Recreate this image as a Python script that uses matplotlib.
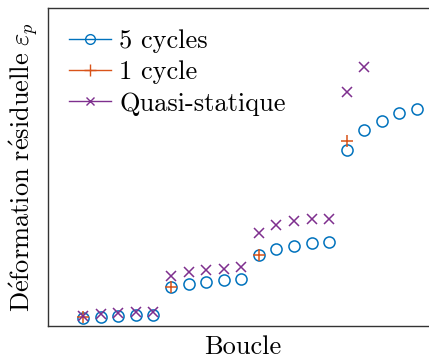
import numpy as np
import matplotlib
matplotlib.use("Agg")
import matplotlib.pyplot as plt
from matplotlib.lines import Line2D

plt.rcParams['font.family'] = ['cmr10', 'DejaVu Serif']
plt.rcParams['mathtext.fontset'] = 'cm'
plt.rcParams['axes.unicode_minus'] = False

# residual strain per loop (arbitrary units)
boucles = np.arange(1, 21)
eps_5cycles = [0.025, 0.028, 0.031, 0.035, 0.036,
               0.122, 0.131, 0.138, 0.144, 0.149,
               0.223, 0.242, 0.253, 0.260, 0.265,
               0.553, 0.616, 0.646, 0.669, 0.681]
boucles_1cycle = [1, 6, 11, 16]
eps_1cycle = [0.027, 0.122, 0.223, 0.582]
boucles_qs = np.arange(1, 18)
eps_qs = [0.031, 0.037, 0.040, 0.043, 0.044,
          0.157, 0.170, 0.176, 0.179, 0.185,
          0.293, 0.319, 0.329, 0.337, 0.337,
          0.737, 0.814]

blue = '#0072BD'
orange = '#D95319'
purple = '#7E2F8E'

fig = plt.figure(figsize=(4.29, 3.6), dpi=100)
# right edge of the axes runs past the figure border
ax = fig.add_axes([48 / 429, 34 / 360, 390 / 429, 318 / 360])

ax.plot(boucles, eps_5cycles, 'o', color=blue, mfc='none', ms=8, mew=1.1,
        linestyle='none')
ax.plot(boucles_1cycle, eps_1cycle, '+', color=orange, ms=9, mew=1.1,
        linestyle='none')
ax.plot(boucles_qs, eps_qs, 'x', color=purple, ms=6.5, mew=1.1,
        linestyle='none')

# legend handles drawn with a line through the marker
handles = [
    Line2D([], [], color=blue, marker='o', mfc='none', ms=7, mew=1.0, lw=1.0),
    Line2D([], [], color=orange, marker='+', ms=8, mew=1.0, lw=1.0),
    Line2D([], [], color=purple, marker='x', ms=5.5, mew=1.0, lw=1.0),
]
ax.legend(handles, ['5 cycles', '1 cycle', 'Quasi-statique'], loc='upper left',
          frameon=False, fontsize=19, handlelength=1.6, handletextpad=0.3,
          labelspacing=0.29, borderaxespad=0.4, numpoints=1)

ax.set_xlim(-1, 21.2)
ax.set_ylim(0, 1)
ax.set_xticks([])
ax.set_yticks([])
for s in ax.spines.values():
    s.set_color('#333333')
    s.set_linewidth(1.0)
ax.spines['right'].set_visible(False)

ax.set_xlabel('Boucle', fontsize=19, labelpad=7)
ax.set_ylabel(r'$\mathrm{D\acute{e}formation\ r\acute{e}siduelle}\ \varepsilon_p$',
              fontsize=19, labelpad=5)

fig.savefig('out.png', dpi=100)
